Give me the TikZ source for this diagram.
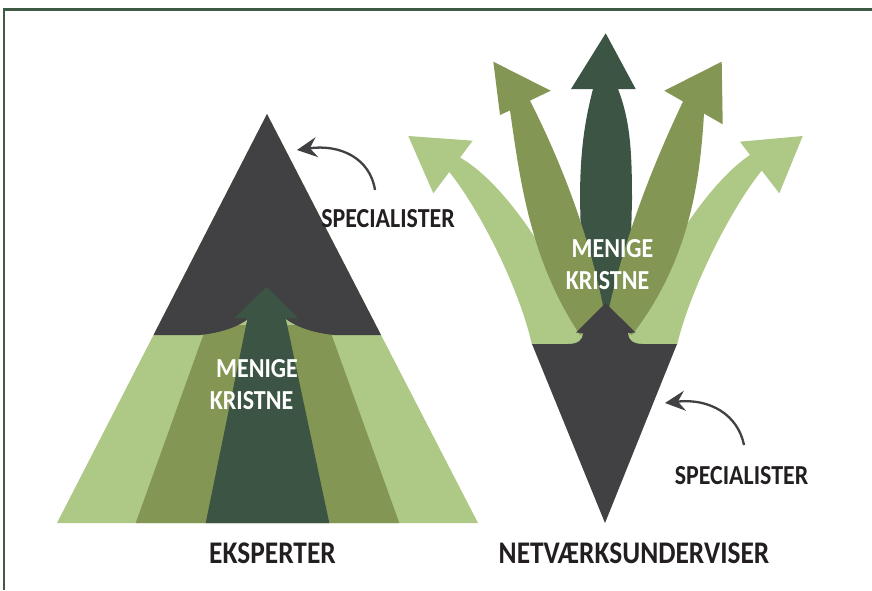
\documentclass[tikz,border=0pt]{standalone}
\usepackage{fontspec}
\usetikzlibrary{arrows.meta}
\newfontfamily\lblfont[FakeStretch=0.87]{Carlito}
\definecolor{cgray}{HTML}{414042}
\definecolor{cdark}{HTML}{3C5444}
\definecolor{cmed}{HTML}{849654}
\definecolor{clight}{HTML}{AEC886}
\definecolor{cborder}{HTML}{3E5B46}
\definecolor{ctext}{HTML}{231F20}
\tikzset{
  lbl/.style={font=\lblfont\bfseries\fontsize{27.5}{30}\selectfont, text=ctext, anchor=base, inner sep=0pt},
  biglbl/.style={font=\lblfont\bfseries\fontsize{31.5}{34}\selectfont, text=ctext, anchor=base, inner sep=0pt},
  wlbl/.style={font=\lblfont\bfseries\fontsize{27.5}{30}\selectfont, text=white, anchor=base, inner sep=0pt},
  curvearrow/.style={draw=cgray, line width=2.3pt, -{Stealth[length=20pt,width=20pt,inset=7pt]}},
}
\begin{document}
\begin{tikzpicture}[x=1pt,y=-1pt]
\useasboundingbox (0,0) rectangle (872,590);
\fill[white] (0,0) rectangle (872,590);
% frame
\draw[cborder, line width=2.5pt] (4,590) -- (4,9.5) -- (872,9.5);

% ---------- left pyramid ----------
\fill[clight] (267,114) -- (478,523) -- (57,523) -- cycle;
\fill[cmed] (206.9,325) -- (328.1,325) -- (399.3,523) -- (135.7,523) -- cycle;
\fill[cgray] (267,114) -- (153.5,335) -- (200,335)
  .. controls (220,333) and (238,327) .. (248,319) -- (286,319)
  .. controls (296,327) and (314,333) .. (334,335) -- (381,335) -- cycle;
\fill[cdark] (266.7,286.7) -- (298.3,318.3) -- (285.7,318.3) -- (329.3,523)
  -- (205.7,523) -- (247.5,318.3) -- (234.3,318.3) -- cycle;

% ---------- right V ----------
\fill[clight] (408.3,136) -- (472.7,140.7) -- (460,157.6)
  .. controls (497,178) and (550,245) .. (590,345) -- (532,345)
  .. controls (520,290) and (480,210) .. (449.3,172) -- (433.3,193.3) -- cycle;
\fill[clight] (802.7,136) -- (740,141.7) -- (750,155)
  .. controls (715,178) and (664,245) .. (624,345) -- (677,345)
  .. controls (690,290) and (730,210) .. (761.7,170.5) -- (779.3,193.3) -- cycle;
\fill[cdark] (605.7,33.3) -- (635.7,89) -- (618,89)
  .. controls (630,120) and (632,150) .. (632,200) -- (630,280) -- (606,330)
  -- (582,280) -- (580,200) .. controls (580,150) and (585,120) .. (593,89)
  -- (571,89) -- cycle;
\fill[cmed] (493.3,61.7) -- (550.7,90.7) -- (530,100.6)
  .. controls (555,150) and (590,230) .. (606,322) -- (580,335)
  .. controls (530,260) and (520,180) .. (510,110.4) -- (500,115) -- cycle;
\fill[cmed] (721.7,61.7) -- (722.7,124.3) -- (704,113.5)
  .. controls (700,180) and (690,260) .. (632,335) -- (606,322)
  .. controls (625,230) and (660,150) .. (683,101.5) -- (664.3,90.7) -- cycle;
\fill[cgray] (532,344) -- (568,344) .. controls (578,344) and (583,340) .. (583,333)
  -- (576,332.5) -- (605.5,303) -- (635.5,332.5) -- (628,333)
  .. controls (628,340) and (633,344) .. (643,344) -- (677,344) -- (605,523) -- cycle;

% ---------- labels ----------
\node[wlbl] (menL) at (257,377) {MENIGE};
\node[wlbl] (kriL) at (251.5,409) {KRISTNE};
\node[wlbl] (menR) at (612.5,257) {MENIGE};
\node[wlbl] (kriR) at (607.5,289) {KRISTNE};
\node[lbl] (specL) at (388,227) {SPECIALISTER};
\node[lbl] (specR) at (741.5,484) {SPECIALISTER};
\node[biglbl] (eks) at (272.5,563) {EKSPERTER};
\node[biglbl] (net) at (634,563) {NETVÆRKSUNDERVISER};

% ---------- curved arrows ----------
\coordinate (aLs) at (375,190);
\coordinate (aLe) at (297,150);
\coordinate (aRs) at (744,445);
\coordinate (aRe) at (665,403);
\draw[curvearrow] (aLs) .. controls (370,158) and (340,144) .. (aLe);
\draw[curvearrow] (aRs) .. controls (738,415) and (710,398) .. (aRe);
\end{tikzpicture}
\end{document}
